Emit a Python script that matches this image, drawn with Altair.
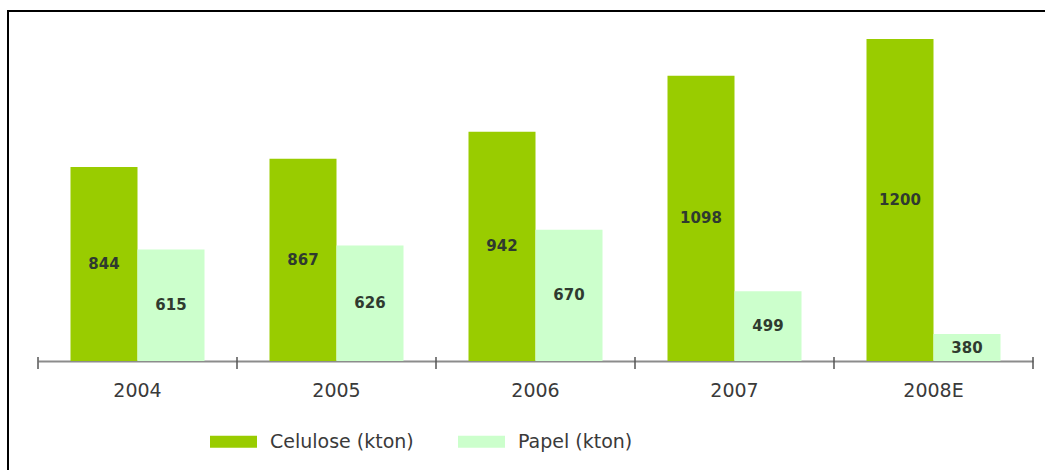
import altair as alt
import pandas as pd

years = ["2004", "2005", "2006", "2007", "2008E"]
celulose = [844, 867, 942, 1098, 1200]
papel = [615, 626, 670, 499, 380]
series = ["Celulose (kton)", "Papel (kton)"]
colors = ["#99CC00", "#CCFFCC"]
boundaries = [0, 1, 2, 3, 4, 5]
BASE = 305
TOP = 1250

rows = []
for i, yr in enumerate(years):
    rows.append({"year": yr, "series": series[0], "value": celulose[i]})
    rows.append({"year": yr, "series": series[1], "value": papel[i]})
df = pd.DataFrame(rows)
ticks_df = pd.DataFrame({"b": boundaries})
frame_df = pd.DataFrame({"k": [0]})

W, H = 995, 340
PL, PT = 38, 21

xscale = alt.Scale(paddingInner=0, paddingOuter=0)
xo = alt.XOffset("series:N", sort=series,
                 scale=alt.Scale(paddingOuter=0.485, paddingInner=0))
yenc = alt.Y("value:Q", scale=alt.Scale(domain=[BASE, TOP], zero=False, nice=False), axis=None)

bars = alt.Chart(df).mark_bar(clip=True).encode(
    x=alt.X("year:N", sort=years, scale=xscale,
            axis=alt.Axis(title=None, labelAngle=0, ticks=False, tickSize=0,
                          labelPadding=20, labelFont="DejaVu Sans", labelFontSize=19,
                          labelColor="#3a3a3a", domainColor="#8c8c8c", domainWidth=2,
                          grid=False)),
    xOffset=xo,
    y=yenc,
    y2=alt.datum(BASE),
    color=alt.Color("series:N", scale=alt.Scale(domain=series, range=colors),
                    legend=alt.Legend(orient="none", legendX=210 - PL, legendY=418 - PT,
                                      direction="horizontal", title=None,
                                      symbolType="M-1,-0.255H1V0.255H-1Z", symbolSize=2209,
                                      symbolStrokeWidth=0, symbolOpacity=1,
                                      labelFont="DejaVu Sans", labelFontSize=19,
                                      labelColor="#3a3a3a", labelOffset=13,
                                      columnPadding=44, padding=0)),
)

labels = alt.Chart(df).transform_calculate(
    mid=f"(datum.value + {BASE}) / 2"
).mark_text(font="DejaVu Sans", fontWeight="bold", fontSize=15, color="#2f3a2f").encode(
    x=alt.X("year:N", sort=years, scale=xscale, axis=None),
    xOffset=xo,
    y=alt.Y("mid:Q", scale=alt.Scale(domain=[BASE, TOP], zero=False, nice=False), axis=None),
    text=alt.Text("value:Q"),
)

ticks = alt.Chart(ticks_df).mark_rule(color="#555555", strokeWidth=1.5).encode(
    x=alt.X("b:Q", scale=alt.Scale(domain=[0, 5], nice=False, zero=False), axis=None),
    y=alt.value(H - 4),
    y2=alt.value(H + 8),
)

frame_left = alt.Chart(frame_df).mark_rule(color="black", strokeWidth=2).encode(
    x=alt.value(8 - PL), y=alt.value(11 - PT), y2=alt.value(480 - PT)
)
frame_top = alt.Chart(frame_df).mark_rule(color="black", strokeWidth=2).encode(
    x=alt.value(7 - PL), x2=alt.value(1060 - PL), y=alt.value(11 - PT)
)

chart = alt.layer(bars, labels, ticks, frame_left, frame_top).resolve_scale(
    x="independent"
).properties(
    width=W, height=H,
    autosize=alt.AutoSizeParams(type="none"),
    padding={"left": PL, "top": PT, "right": 1045 - PL - W, "bottom": 470 - PT - H},
    background="white",
).configure_view(stroke=None)

chart.save("out.html", embed_options={"renderer": "svg", "actions": False})
